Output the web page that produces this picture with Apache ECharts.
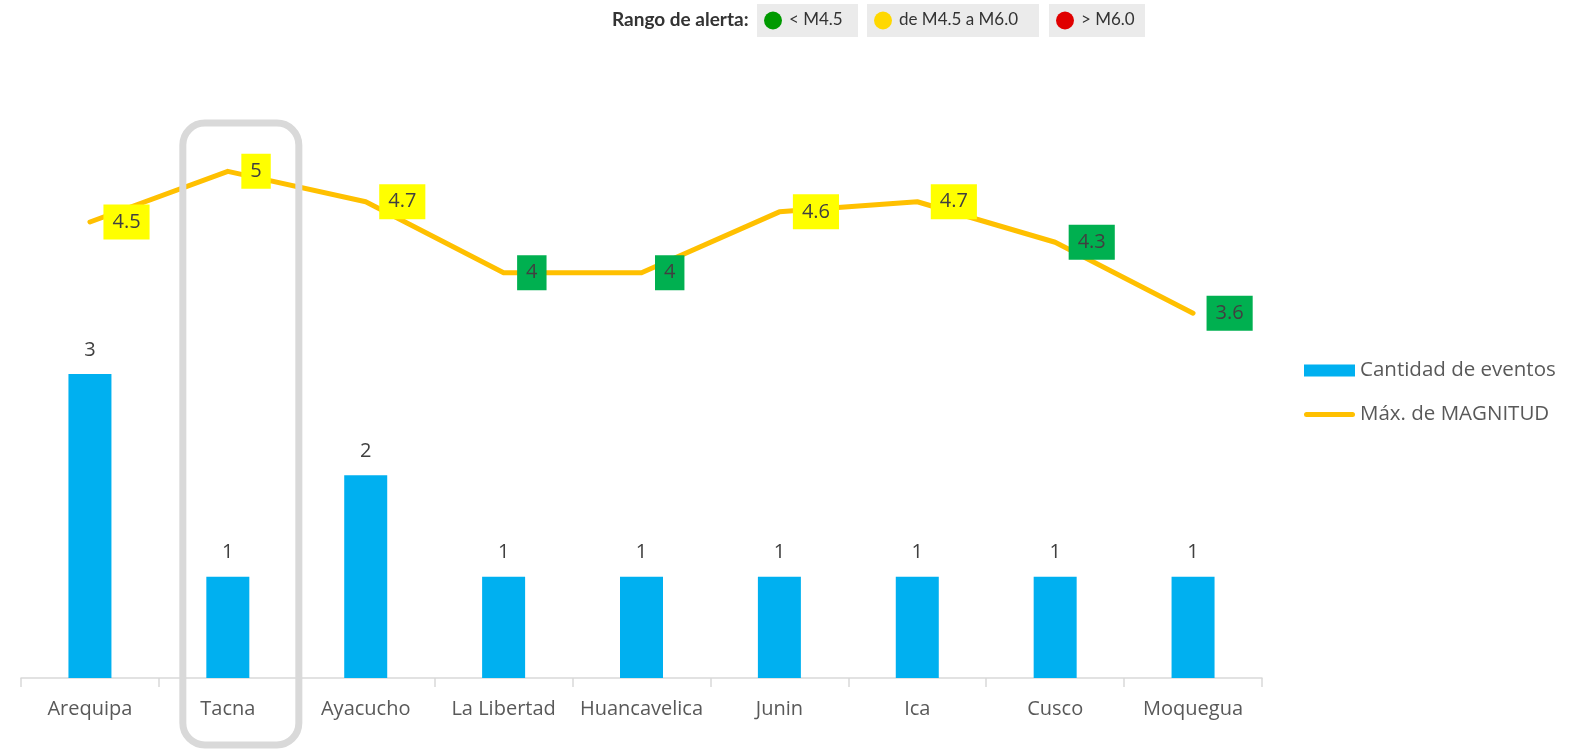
<!DOCTYPE html>
<html>
<head>
<meta charset="utf-8">
<script src="https://cdn.jsdelivr.net/npm/echarts@6/dist/echarts.min.js"></script>
<style>
html,body{margin:0;padding:0;background:#fff;}
#c{width:1583px;height:749px;}
</style>
</head>
<body>
<div id="c"></div>
<script>
const categories = ['Arequipa','Tacna','Ayacucho','La Libertad','Huancavelica','Junin','Ica','Cusco','Moquegua'];
const eventCounts = [3,1,2,1,1,1,1,1,1];
const maxMagnitude = [4.5,5,4.7,4,4,4.6,4.7,4.3,3.6];
const alertRanges = ['< M4.5','de M4.5 a M6.0','> M6.0'];
const alertColors = ['#009A00','#FFD800','#E00000'];
const alertThreshold = 4.5;

const FONT = '"Open Sans", "Noto Sans", sans-serif';
const chart = echarts.init(document.getElementById('c'), null, {renderer:'canvas'});

const lineData = maxMagnitude.map(v => ({
  value: v,
  label: { backgroundColor: v >= alertThreshold ? '#FFFF00' : '#00B050' }
}));

// top legend (graphic)
const topGraphic = [];
topGraphic.push({type:'text', left:612, top:10, style:{text:'Rango de alerta:', font:'bold 19px Lato, "Open Sans", sans-serif', fill:'#333'}, z:10});
const boxes = [[757,101],[867,172],[1049,96]];
alertRanges.forEach((t,i)=>{
  const [x,w] = boxes[i];
  topGraphic.push({type:'rect', shape:{x:x,y:4,width:w,height:33}, style:{fill:'#EBEBEB'}, z:9});
  topGraphic.push({type:'circle', shape:{cx:x+16,cy:20.5,r:9}, style:{fill:alertColors[i]}, z:10});
  topGraphic.push({type:'text', x:x+32, y:11, style:{text:t, font:'17px Lato, "Open Sans", sans-serif', fill:'#333'}, z:10});
});

chart.setOption({
  animation:false,
  textStyle:{fontFamily:FONT},
  grid:{left:21, right:321, top:70, bottom:71, containLabel:false},
  legend:{
    orient:'vertical', left:1299, top:355, itemGap:23, itemWidth:51, itemHeight:12,
    textStyle:{fontSize:20.5, color:'#595959', fontFamily:FONT},
    data:[
      {name:'Cantidad de eventos', icon:'rect'},
      {name:'Máx. de MAGNITUD', icon:'path://M2.5,0 H48.5 A2.5,2.5 0 0 1 48.5,5 H2.5 A2.5,2.5 0 0 1 2.5,0 Z', itemStyle:{color:'#FFC000'}}
    ]
  },
  xAxis:{
    type:'category', data:categories, boundaryGap:true,
    axisLine:{lineStyle:{color:'#D9D9D9', width:1.5}},
    axisTick:{show:true, interval:0, length:9, lineStyle:{color:'#D9D9D9', width:1.5}},
    axisLabel:{interval:0, fontSize:20, color:'#595959', margin:21, fontFamily:FONT},
    splitLine:{show:false}
  },
  yAxis:{type:'value', min:0, max:6, show:false, splitLine:{show:false}},
  series:[
    {
      name:'Cantidad de eventos', type:'bar', data:eventCounts, barWidth:43,
      itemStyle:{color:'#00B0F0'},
      label:{show:true, position:'top', distance:14, fontSize:20, color:'#404040', fontFamily:FONT}
    },
    {
      name:'Máx. de MAGNITUD', type:'line', data:lineData, symbol:'circle', symbolSize:1, showSymbol:true,
      lineStyle:{color:'#FFC000', width:5, cap:'round', join:'round'},
      itemStyle:{color:'#FFC000'},
      label:{show:true, position:'right', distance:13, fontSize:20, lineHeight:22, color:'#404040',
             padding:[7,9,6,9], fontFamily:FONT},
      z:3
    }
  ],
  graphic: topGraphic
});

const tx = chart.convertToPixel({xAxisIndex:0}, 'Tacna');
topGraphic.push({type:'rect', shape:{x:tx-45, y:123, width:116, height:622, r:22},
  style:{fill:'none', stroke:'#D9D9D9', lineWidth:7}, z:100});
chart.setOption({graphic: topGraphic}, {replaceMerge:['graphic']});
</script>
</body>
</html>
